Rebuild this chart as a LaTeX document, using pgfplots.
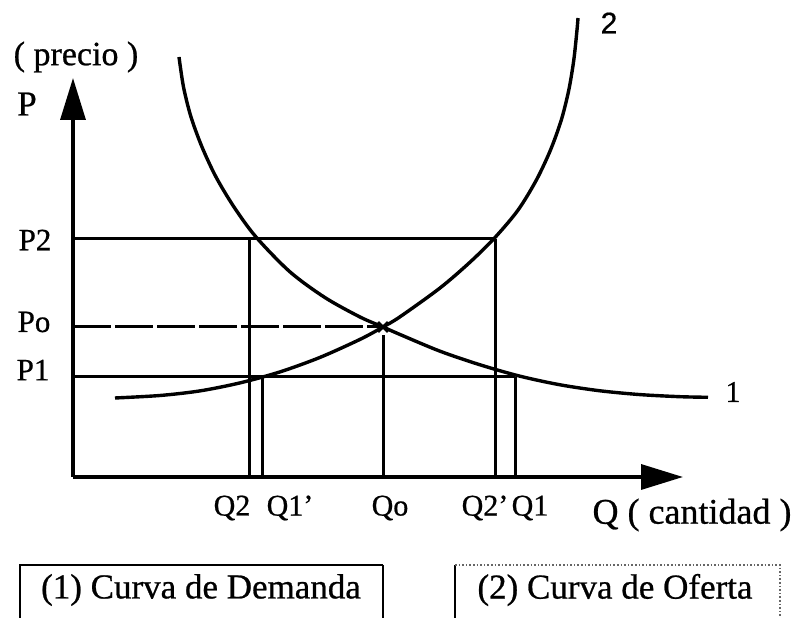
\documentclass[border=0pt]{standalone}
\usepackage{fontspec}
\setmainfont{Liberation Serif}[FakeBold=0.7]
\newfontfamily\sansf{Liberation Sans}[FakeBold=0.5]
\usepackage{pgfplots}
\pgfplotsset{compat=1.18}
\usetikzlibrary{arrows.meta}
\begin{document}
\begin{tikzpicture}
\begin{axis}[
    width=796pt, height=618pt, scale only axis,
    xmin=-73, xmax=723, ymin=-141, ymax=477,
    hide axis, clip=false,
]
% axes
\addplot[black, line width=3.4pt, -{Triangle[length=42pt,width=25pt]}] coordinates {(0,0) (0,399)};
\addplot[black, line width=3.4pt, -{Triangle[length=42pt,width=25pt]}] coordinates {(0,0) (610,0)};
% guide lines
\addplot[black, line width=3pt] coordinates {(0,238) (422,238)};
\addplot[black, line width=3pt, dash pattern=on 38pt off 4pt] coordinates {(0,150) (310,150)};
\addplot[black, line width=3pt] coordinates {(0,100) (442,100)};
\addplot[black, line width=3pt] coordinates {(176,0) (176,238)};
\addplot[black, line width=3pt] coordinates {(189,0) (189,100)};
\addplot[black, line width=3pt] coordinates {(310,0) (310,142)};
\addplot[black, line width=3pt] coordinates {(422,0) (422,238)};
\addplot[black, line width=3pt] coordinates {(442,0) (442,100)};
% (1) demand
\addplot[black, line width=3.4pt, smooth] coordinates {
    (106,420) (110.5,390) (118,360) (129,330) (143,300) (161,270) (183,240)
    (217,205.1) (252,179.4) (287,160) (310,150) (327,142.5) (367,125.8)
    (407,112.2) (447,100.8) (487,92.2) (527,86.2) (567,82.4) (607,80.3) (635,79.7)
};
% (2) supply
\addplot[black, line width=3.4pt, smooth] coordinates {
    (42,79) (87,81.5) (127,86.1) (167,94.1) (207,105.1) (247,119.6) (287,137.6)
    (310,150) (327,160.2) (367,189) (397,214.8) (422,239.5) (445.1,267)
    (463.4,297) (477.5,327) (488.3,357) (495.8,387) (500.8,417) (504,447) (505,459)
};
\addplot[black, only marks, mark=x, mark size=7pt, line width=2.8pt] coordinates {(310,150)};
% labels
\node[font=\fontsize{34}{40}\selectfont] at (axis cs:3,420) {( precio )};
\node[font=\fontsize{35}{40}\selectfont] at (axis cs:-46,373) {P};
\node[font=\fontsize{31}{36}\selectfont] at (axis cs:-38,237) {P2};
\node[font=\fontsize{31}{36}\selectfont] at (axis cs:-39,155) {Po};
\node[font=\fontsize{31}{36}\selectfont] at (axis cs:-40,107) {P1};
\node[font=\fontsize{30}{34}\selectfont] at (axis cs:159,-31) {Q2};
\node[font=\fontsize{30}{34}\selectfont] at (axis cs:217,-31) {Q1’};
\node[font=\fontsize{30}{34}\selectfont] at (axis cs:317,-31) {Qo};
\node[font=\fontsize{30}{34}\selectfont] at (axis cs:412,-31) {Q2’};
\node[font=\fontsize{30}{34}\selectfont] at (axis cs:457,-31) {Q1};
\node[font=\fontsize{36}{42}\selectfont, anchor=east] at (axis cs:722,-38) {Q ( cantidad )};
\node[font=\fontsize{30}{34}\selectfont] at (axis cs:660,85) {1};
\node[font=\sansf\fontsize{30}{34}\selectfont] at (axis cs:536,454) {2};
% legend boxes
\addplot[black, line width=1.6pt] coordinates {(-53,-141) (-53,-88) (310,-88)};
\addplot[black, line width=2.8pt] coordinates {(310,-88) (310,-141)};
\addplot[black, line width=2.6pt] coordinates {(382,-141) (382,-88)};
\addplot[black!60, line width=1.6pt, dotted] coordinates {(382,-88) (707,-88) (707,-141)};
\node[font=\fontsize{35}{40}\selectfont] at (axis cs:128,-113) {(1) Curva de Demanda};
\node[font=\fontsize{35}{40}\selectfont] at (axis cs:542,-113) {(2) Curva de Oferta};
\coordinate (ll) at (axis cs:-73,-141);
\coordinate (ur) at (axis cs:723,477);
\end{axis}
\pgfresetboundingbox
\path (ll) rectangle (ur);
\end{tikzpicture}
\end{document}
